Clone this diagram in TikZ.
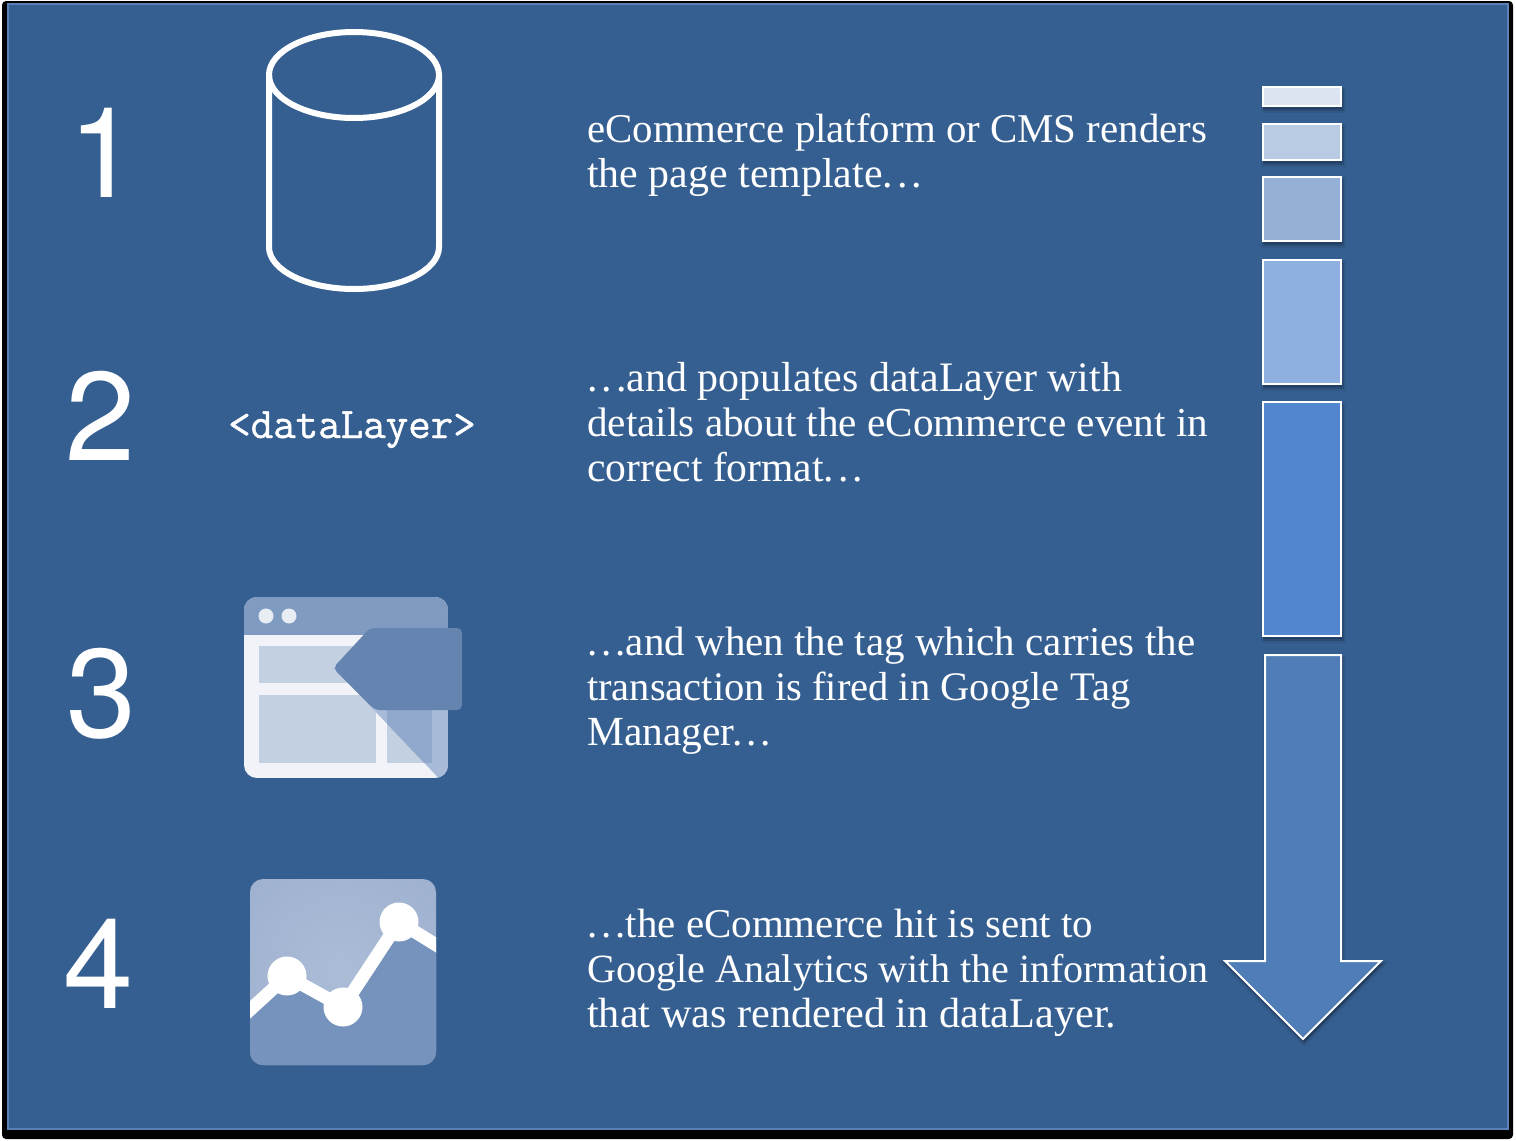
\documentclass[tikz,border=0pt]{standalone}
\usepackage{fontspec}
\setmainfont{Liberation Serif}
\setmonofont[FakeBold=1]{Latin Modern Mono}
\newfontfamily\digitfont{TeX Gyre Heros}
\definecolor{panel}{HTML}{365F91}
\definecolor{paneledge}{HTML}{5A80B8}
\definecolor{boxa}{HTML}{DCE4F2}
\definecolor{boxb}{HTML}{B9CBE3}
\definecolor{boxc}{HTML}{95B0D6}
\definecolor{boxd}{HTML}{8DB0E0}
\definecolor{boxe}{HTML}{5287CF}
\definecolor{arrowfill}{HTML}{4F7DB8}
\definecolor{tagbar}{HTML}{7F9BC2}
\definecolor{tagbody}{HTML}{F1F3F8}
\definecolor{tagpane}{HTML}{C3D0E2}
\definecolor{tagfold}{HTML}{A7BAD7}
\definecolor{tagfoldpane}{HTML}{8FA8CC}
\definecolor{tagflag}{HTML}{6585B0}
\definecolor{tagdot}{HTML}{E8ECF3}
\definecolor{gaglow}{HTML}{ABBCD7}
\definecolor{gatop}{HTML}{9DB0CE}
\definecolor{galow}{HTML}{7593BC}
\newcommand{\fitline}[2]{\resizebox{#1pt}{!}{#2}}
\newcommand{\dotsgap}{.\kern4pt.\kern4pt.}
\tikzset{
  x=1pt,y=-1pt,
  digit/.style={text=white,anchor=base,inner sep=0pt,font=\digitfont\fontsize{126}{126}\selectfont},
  para/.style={text=white,anchor=north west,inner sep=0pt,align=left,font=\fontsize{41}{45}\selectfont},
  stepbar/.style={draw=white,line width=2pt,
    preaction={fill=black,opacity=.07,draw=black,line width=7pt,transform canvas={xshift=1pt,yshift=-3pt}},
    preaction={fill=black,opacity=.14,draw=black,line width=3pt,transform canvas={xshift=1pt,yshift=-3pt}}},
}
\begin{document}
\begin{tikzpicture}
\useasboundingbox (0,0) rectangle (1516,1141);
\fill[white] (0,0) rectangle (1516,1141);
\fill[black,rounded corners=4pt] (2,1) rectangle (1513,1139);
\fill[panel,draw=paneledge,line width=2pt] (8,4) rectangle (1508,1129);

% numbers
\node[digit] (n1) at (104,197) {1};
\node[digit] (n2) at (101,460) {2};
\node[digit] (n3) at (102,737) {3};
\node[digit] (n4) at (99,1008) {4};

% database
\draw[white,line width=6pt] (269,75) -- (269,247) arc[start angle=180,end angle=360,x radius=85,y radius=-42] -- (439,75);
\draw[white,line width=6pt] (354,75) ellipse[x radius=85,y radius=43];

% dataLayer
\node[text=white,inner sep=0pt,anchor=base,font=\ttfamily\fontsize{43.7}{45}\selectfont] (code) at (352,438) {<dataLayer>};

% tag manager icon
\begin{scope}
\clip[rounded corners=13pt] (244,597) rectangle (448,778);
\fill[tagbody] (244,597) rectangle (448,778);
\fill[tagbar] (244,597) rectangle (448,635);
\fill[tagpane] (259,646) rectangle (432,683);
\fill[tagpane] (259,695) rectangle (376,763);
\fill[tagpane] (387,695) rectangle (432,763);
\fill[tagfold] (334,668) -- (448,668) -- (448,790) -- (450,790) -- cycle;
\begin{scope}
\clip (334,668) -- (448,668) -- (448,790) -- (450,790) -- cycle;
\fill[tagfoldpane] (259,646) rectangle (432,683);
\fill[tagfoldpane] (387,695) rectangle (432,763);
\end{scope}
\end{scope}
\fill[tagdot] (266,616) circle[radius=7.5];
\fill[tagdot] (289,616) circle[radius=7.5];
\fill[tagflag,rounded corners=5pt] (333,668) -- (370,628) -- (462,628) -- (462,710) -- (375,710) -- cycle;

% analytics icon
\begin{scope}
\clip[rounded corners=13pt] (250,879) rectangle (436,1065);
\shade[inner color=gaglow,outer color=gatop,shading=radial] (200,830) rectangle (480,1110);
\fill[galow] (240,1015) -- (287,976) -- (343,1007) -- (399,922) -- (446,951) -- (446,1075) -- (240,1075) -- cycle;
\draw[white,line width=13pt,line join=round] (240,1019) -- (287,976) -- (343,1007) -- (399,922) -- (446,951);
\end{scope}
\fill[white] (287,976) circle[radius=19.5];
\fill[white] (343,1007) circle[radius=19.5];
\fill[white] (399,922) circle[radius=19.5];

% paragraphs
\node[para] (p1) at (587,114) {\fitline{620}{eCommerce platform or CMS renders}\\\fitline{335}{the page template\dotsgap}};
\node[para] (p2) at (587,362) {\fitline{535}{\dotsgap and populates dataLayer with}\\\fitline{621}{details about the eCommerce event in}\\\fitline{276}{correct format\dotsgap}};
\node[para] (p3) at (587,627) {\fitline{608}{\dotsgap and when the tag which carries the}\\\fitline{543}{transaction is fired in Google Tag}\\\fitline{184}{Manager\dotsgap}};
\node[para] (p4) at (587,909) {\fitline{506}{\dotsgap the eCommerce hit is sent to}\\\fitline{621}{Google Analytics with the information}\\\fitline{529}{that was rendered in dataLayer.}};

% progress bars
\path[stepbar,fill=boxa] (1263,87) rectangle (1341,106);
\path[stepbar,fill=boxb] (1263,124) rectangle (1341,160);
\path[stepbar,fill=boxc] (1263,177) rectangle (1341,241);
\path[stepbar,fill=boxd] (1263,260) rectangle (1341,384);
\path[stepbar,fill=boxe] (1263,402) rectangle (1341,636);
\path[stepbar,fill=arrowfill] (1265,655) -- (1341,655) -- (1341,961) -- (1381,961) -- (1303,1039) -- (1225,961) -- (1265,961) -- cycle;
\end{tikzpicture}
\end{document}
